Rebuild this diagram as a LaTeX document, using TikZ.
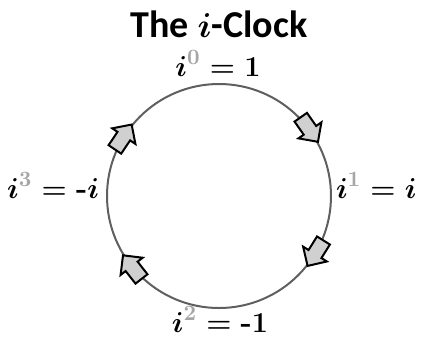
\documentclass[tikz,border=0pt]{standalone}
\usepackage{amsmath}
\usepackage{fontspec}
\setsansfont{Carlito}
\usetikzlibrary{shapes.arrows}

\definecolor{ringgray}{HTML}{5F5F5F}
\definecolor{expgray}{HTML}{A6A6A6}
\definecolor{qfill}{HTML}{D0D0D0}
\newcommand{\ipow}[2]{$\boldsymbol{i}^{\textcolor{expgray}{\mathbf{#1}}} = #2$}
\newcommand{\hy}{\mbox{\bfseries -}}

\begin{document}
\begin{tikzpicture}[x=0.5pt, y=-0.5pt, line width=1pt,
  lbl/.style={font=\fontsize{15}{17}\selectfont\boldmath, inner sep=0pt},
  qarrow/.style={single arrow, draw=black, fill=qfill, line width=1pt,
    minimum height=15pt, inner xsep=0pt, inner ysep=3.3pt,
    single arrow head extend=3.2pt, anchor=tip}]
  \useasboundingbox (0,0) rectangle (423,345);
  \node[font=\sffamily\bfseries\fontsize{19}{22}\selectfont\boldmath, anchor=base, inner sep=0pt]
    (title) at (219,37) {The $\boldsymbol{i}$-Clock};
  % ring
  \node[circle, draw=ringgray, line width=1pt, minimum size=112pt, inner sep=0pt] (clock) at (219,196) {};
  % powers
  \node[lbl, anchor=base] (p0) at (218,76) {\ipow{0}{\mathbf{1}}};
  \node[lbl, anchor=base west] (p1) at (335,198) {\ipow{1}{\boldsymbol{i}}};
  \node[lbl, anchor=base] (p2) at (220,332) {\ipow{2}{\hy\mathbf{1}}};
  \node[lbl, anchor=base east] (p3) at (100,198) {\ipow{3}{\hy\boldsymbol{i}}};
  % clockwise arrows
  \node[qarrow, rotate=-55] (q1) at (clock.28.6) {};
  \node[qarrow, rotate=-122] (q2) at (clock.-39.5) {};
  \node[qarrow, rotate=128] (q3) at (clock.-149.6) {};
  \node[qarrow, rotate=56] (q4) at (clock.140) {};
\end{tikzpicture}
\end{document}
